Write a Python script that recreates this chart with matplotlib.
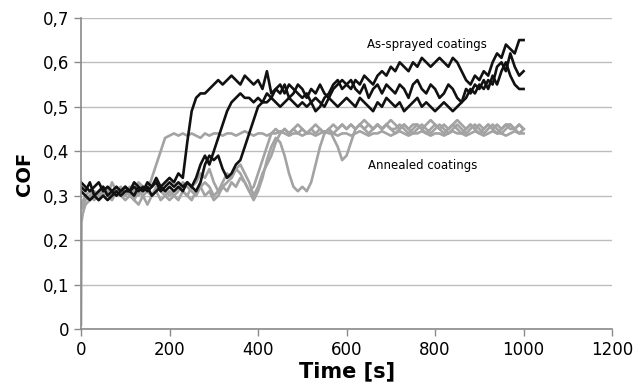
"""
COF vs time, as-sprayed vs annealed coatings
"""

import numpy as np
import matplotlib.pyplot as plt
from matplotlib.ticker import FuncFormatter

OUTFILE = "out.png"

# sampling grid of the traces (s)
TIME = np.arange(0, 1001, 10)

# as-sprayed coatings (black)
SPRAYED_1 = [0.32, 0.31, 0.33, 0.30, 0.31, 0.32, 0.30, 0.31, 0.32, 0.31, 0.32,
             0.31, 0.33, 0.32, 0.31, 0.33, 0.32, 0.34, 0.32, 0.33, 0.34,
             0.33, 0.35, 0.34, 0.42, 0.49, 0.52, 0.53, 0.53, 0.54, 0.55,
             0.56, 0.55, 0.56, 0.57, 0.56, 0.55, 0.57, 0.56, 0.55, 0.56,
             0.54, 0.58, 0.53, 0.54, 0.55, 0.53, 0.55, 0.54, 0.53, 0.52,
             0.53, 0.51, 0.49, 0.50, 0.52, 0.53, 0.55, 0.56, 0.54, 0.55,
             0.56, 0.54, 0.53, 0.55, 0.52, 0.54, 0.55, 0.53, 0.55, 0.54,
             0.53, 0.55, 0.54, 0.52, 0.55, 0.56, 0.54, 0.53, 0.55, 0.54,
             0.52, 0.53, 0.55, 0.54, 0.52, 0.51, 0.54, 0.53, 0.55, 0.54,
             0.56, 0.54, 0.57, 0.55, 0.58, 0.60, 0.57, 0.55, 0.54, 0.54]
SPRAYED_2 = [0.31, 0.30, 0.29, 0.30, 0.29, 0.30, 0.29, 0.30, 0.31, 0.30, 0.31,
             0.31, 0.32, 0.31, 0.32, 0.31, 0.32, 0.33, 0.31, 0.32, 0.33,
             0.32, 0.33, 0.32, 0.33, 0.32, 0.34, 0.37, 0.39, 0.37, 0.40,
             0.43, 0.46, 0.49, 0.51, 0.52, 0.53, 0.52, 0.52, 0.51, 0.52,
             0.51, 0.53, 0.52, 0.54, 0.53, 0.55, 0.52, 0.53, 0.55, 0.54,
             0.52, 0.54, 0.53, 0.55, 0.53, 0.52, 0.54, 0.55, 0.56, 0.55,
             0.54, 0.56, 0.55, 0.57, 0.56, 0.55, 0.57, 0.58, 0.57, 0.59,
             0.58, 0.60, 0.59, 0.58, 0.60, 0.59, 0.61, 0.60, 0.59, 0.60,
             0.61, 0.60, 0.59, 0.61, 0.60, 0.58, 0.56, 0.55, 0.57, 0.56,
             0.58, 0.57, 0.60, 0.62, 0.61, 0.64, 0.63, 0.62, 0.65, 0.65]
SPRAYED_3 = [0.33, 0.32, 0.31, 0.32, 0.33, 0.31, 0.32, 0.31, 0.30, 0.31, 0.32,
             0.31, 0.30, 0.32, 0.31, 0.32, 0.30, 0.31, 0.32, 0.31, 0.32,
             0.31, 0.32, 0.31, 0.33, 0.32, 0.31, 0.33, 0.37, 0.39, 0.38,
             0.39, 0.36, 0.34, 0.35, 0.37, 0.38, 0.41, 0.44, 0.47, 0.50,
             0.51, 0.51, 0.52, 0.51, 0.50, 0.51, 0.52, 0.51, 0.50, 0.51,
             0.50, 0.51, 0.52, 0.51, 0.50, 0.52, 0.51, 0.50, 0.51, 0.52,
             0.51, 0.50, 0.52, 0.51, 0.50, 0.49, 0.51, 0.50, 0.52, 0.51,
             0.50, 0.51, 0.49, 0.50, 0.51, 0.52, 0.50, 0.51, 0.50, 0.49,
             0.50, 0.51, 0.50, 0.49, 0.50, 0.51, 0.52, 0.54, 0.53, 0.55,
             0.54, 0.56, 0.55, 0.59, 0.60, 0.58, 0.62, 0.59, 0.57, 0.58]

# annealed coatings (grey)
ANNEALED_1 = [0.27, 0.28, 0.29, 0.30, 0.31, 0.32, 0.30, 0.33, 0.31, 0.32, 0.30,
              0.32, 0.31, 0.33, 0.32, 0.31, 0.34, 0.37, 0.40, 0.43, 0.435,
              0.44, 0.435, 0.44, 0.435, 0.44, 0.435, 0.43, 0.44, 0.435, 0.44,
              0.44, 0.435, 0.44, 0.44, 0.435, 0.44, 0.445, 0.44, 0.435, 0.44,
              0.44, 0.435, 0.44, 0.44, 0.445, 0.44, 0.435, 0.44, 0.44, 0.435,
              0.44, 0.44, 0.435, 0.44, 0.445, 0.44, 0.44, 0.435, 0.44, 0.44,
              0.435, 0.44, 0.445, 0.44, 0.435, 0.44, 0.44, 0.445, 0.44, 0.435,
              0.44, 0.445, 0.44, 0.435, 0.44, 0.44, 0.445, 0.44, 0.435, 0.44,
              0.44, 0.435, 0.44, 0.445, 0.44, 0.44, 0.435, 0.44, 0.445, 0.44,
              0.435, 0.44, 0.445, 0.44, 0.44, 0.435, 0.44, 0.445, 0.44, 0.44]
ANNEALED_2 = [0.28, 0.29, 0.30, 0.31, 0.30, 0.32, 0.31, 0.30, 0.32, 0.31, 0.30,
              0.31, 0.29, 0.28, 0.30, 0.31, 0.30, 0.32, 0.31, 0.30, 0.29,
              0.30, 0.31, 0.33, 0.32, 0.31, 0.30, 0.32, 0.33, 0.32, 0.30,
              0.31, 0.32, 0.33, 0.34, 0.36, 0.35, 0.33, 0.31, 0.32, 0.35,
              0.38, 0.41, 0.44, 0.45, 0.44, 0.45, 0.44, 0.45, 0.46, 0.45,
              0.44, 0.45, 0.46, 0.45, 0.44, 0.45, 0.46, 0.45, 0.46, 0.45,
              0.46, 0.45, 0.46, 0.47, 0.46, 0.45, 0.46, 0.45, 0.46, 0.47,
              0.46, 0.45, 0.46, 0.45, 0.46, 0.46, 0.45, 0.46, 0.47, 0.46,
              0.45, 0.46, 0.45, 0.46, 0.47, 0.46, 0.45, 0.46, 0.45, 0.46,
              0.45, 0.46, 0.45, 0.46, 0.45, 0.46, 0.46, 0.45, 0.46, 0.45]
ANNEALED_3 = [0.27, 0.29, 0.30, 0.29, 0.31, 0.30, 0.32, 0.31, 0.30, 0.31, 0.32,
              0.30, 0.31, 0.30, 0.32, 0.31, 0.30, 0.31, 0.32, 0.31, 0.30,
              0.31, 0.32, 0.31, 0.30, 0.32, 0.33, 0.35, 0.34, 0.36, 0.33,
              0.31, 0.33, 0.35, 0.34, 0.36, 0.37, 0.35, 0.33, 0.30, 0.32,
              0.35, 0.37, 0.39, 0.42, 0.44, 0.45, 0.44, 0.45, 0.44, 0.45,
              0.44, 0.45, 0.44, 0.45, 0.44, 0.45, 0.43, 0.41, 0.38, 0.39,
              0.42, 0.45, 0.46, 0.45, 0.46, 0.45, 0.46, 0.45, 0.46, 0.45,
              0.45, 0.46, 0.45, 0.44, 0.45, 0.46, 0.45, 0.44, 0.45, 0.46,
              0.45, 0.44, 0.45, 0.46, 0.45, 0.44, 0.45, 0.46, 0.45, 0.44,
              0.45, 0.46, 0.45, 0.44, 0.45, 0.46, 0.45, 0.45, 0.46, 0.45]
ANNEALED_4 = [0.28, 0.30, 0.31, 0.30, 0.29, 0.31, 0.30, 0.29, 0.31, 0.30, 0.29,
              0.30, 0.29, 0.31, 0.30, 0.28, 0.30, 0.31, 0.29, 0.30, 0.31,
              0.30, 0.29, 0.31, 0.30, 0.29, 0.31, 0.32, 0.30, 0.31, 0.29,
              0.30, 0.32, 0.31, 0.33, 0.32, 0.34, 0.33, 0.31, 0.29, 0.31,
              0.34, 0.38, 0.41, 0.43, 0.42, 0.39, 0.35, 0.32, 0.31, 0.32,
              0.31, 0.33, 0.37, 0.41, 0.44, 0.45, 0.44, 0.45, 0.46, 0.45,
              0.46, 0.45, 0.46, 0.45, 0.44, 0.45, 0.46, 0.45, 0.46, 0.45,
              0.44, 0.45, 0.46, 0.45, 0.44, 0.45, 0.46, 0.45, 0.44, 0.45,
              0.46, 0.45, 0.44, 0.45, 0.46, 0.45, 0.44, 0.45, 0.46, 0.45,
              0.44, 0.45, 0.46, 0.45, 0.44, 0.45, 0.46, 0.45, 0.44, 0.45]

# run-in at the very start of the first annealed test
RUNIN_T = [0, 1, 4, 10]
RUNIN_COF = [0.01, 0.24, 0.26, 0.28]

BLACK = '#111111'
GREY = '#a3a3a3'
NARROW = ['Liberation Sans Narrow', 'DejaVu Sans']

fig = plt.figure(figsize=(6.33, 3.88), dpi=100)
ax = fig.add_axes([0.128, 0.152, 0.839, 0.802])

ax.plot(RUNIN_T, RUNIN_COF, c=GREY, lw=1.9)
for series in [ANNEALED_1, ANNEALED_2, ANNEALED_3, ANNEALED_4]:
    ax.plot(TIME, series, c=GREY, lw=1.9)
for series in [SPRAYED_1, SPRAYED_2, SPRAYED_3]:
    ax.plot(TIME, series, c=BLACK, lw=1.9)

ax.set_xlim(0, 1200)
ax.set_ylim(0, 0.7)
ax.set_xticks(np.arange(0, 1201, 200))
ax.set_yticks(np.arange(0, 0.71, 0.1))
ax.yaxis.set_major_formatter(FuncFormatter(lambda v, p: '0' if v == 0 else f'{v:.1f}'.replace('.', ',')))
ax.grid(axis='y', color='#bdbdbd', lw=1)
ax.set_axisbelow(True)
for side in ['top', 'right']:
    ax.spines[side].set_visible(False)
for side in ['left', 'bottom']:
    ax.spines[side].set_color('#8a8a8a')
    ax.spines[side].set_linewidth(1.2)
ax.tick_params(colors='#8a8a8a', length=5, width=1)
ax.tick_params(axis='x', labelcolor='black', labelsize=12)
ax.tick_params(axis='y', labelcolor='black', labelsize=12)
for lab in ax.get_xticklabels():
    lab.set_family(NARROW)

ax.set_xlabel('Time [s]', fontsize=15, fontweight='bold', labelpad=2, family=NARROW)
ax.set_ylabel('COF', fontsize=14, fontweight='bold', labelpad=6)

ax.text(646, 0.641, 'As-sprayed coatings', fontsize=8.5, va='center')
ax.text(649, 0.367, 'Annealed coatings', fontsize=8.5, va='center')

fig.savefig(OUTFILE, dpi=100)
